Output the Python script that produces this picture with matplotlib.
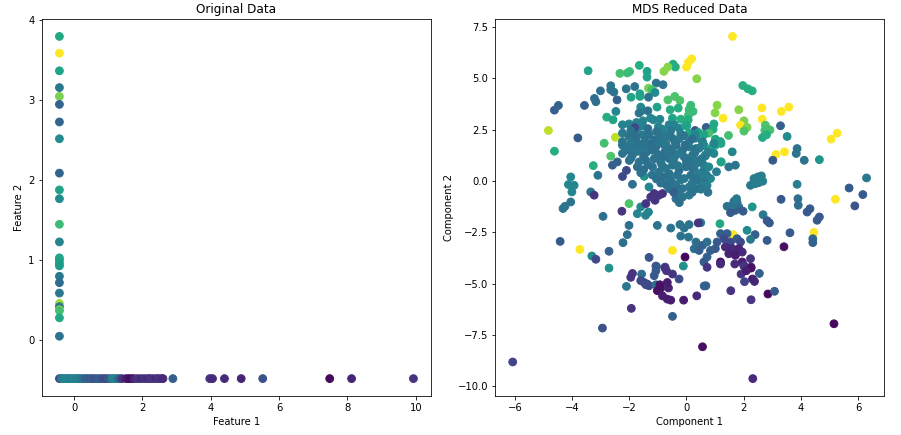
import matplotlib
matplotlib.use("Agg")
import matplotlib.pyplot as plt

# ---- original data (left panel) ----
# points sitting on the vertical line (feature 1 at its minimum)
col_f1 = -0.43
col_f2 = [3.80, 3.59, 3.37, 3.16, 3.05, 2.95, 2.73, 2.52, 2.09, 1.88, 1.77, 1.45, 1.23,
          1.03, 1.00, 0.96, 0.93, 0.80, 0.72, 0.59, 0.46, 0.42, 0.38, 0.37, 0.28, 0.05]
col_c = [0.60, 1.00, 0.58, 0.40, 0.80, 0.32, 0.32, 0.48, 0.32, 0.58, 0.48, 0.68, 0.45,
         0.58, 0.58, 0.55, 0.55, 0.40, 0.35, 0.40, 0.85, 0.40, 0.90, 0.70, 0.60, 0.38]

# points sitting on the horizontal line (feature 2 at its minimum)
row_f2 = -0.48
row_f1 = [-0.43, -0.38, -0.33, -0.28, -0.22, -0.17, -0.12, -0.06, 0.00, 0.05, 0.10, 0.15,
          0.20, 0.27, 0.33, 0.40, 0.47, 0.53, 0.60, 0.68, 0.75, 0.82, 0.90, 0.97, 1.05,
          1.12, 1.18, 1.25, 1.32, 1.40, 1.52, 1.60, 1.68, 1.75, 1.85, 1.95, 2.05, 2.15,
          2.22, 2.30, 2.40, 2.47, 2.55, 2.60, 2.89, 3.97, 4.05, 4.40, 4.89, 5.52, 7.48,
          8.12, 9.93]
row_c = [0.20, 0.40, 0.42, 0.45, 0.45, 0.45, 0.42, 0.45, 0.45, 0.42, 0.45, 0.42,
         0.40, 0.38, 0.30, 0.30, 0.28, 0.30, 0.25, 0.28, 0.30, 0.25, 0.22, 0.25, 0.30,
         0.45, 0.45, 0.42, 0.30, 0.15, 0.08, 0.05, 0.02, 0.10, 0.15, 0.12, 0.15, 0.12,
         0.15, 0.15, 0.12, 0.15, 0.15, 0.12, 0.30, 0.15, 0.12, 0.12, 0.10, 0.25, 0.02,
         0.10, 0.15]

# ---- MDS reduced data (right panel) ----
mds_x = [
    # upper area
    0.18, 0.07, 0.00, 0.36, -0.47, -0.39, -0.65, -0.79, -1.65, -1.38, -1.38, -2.33, -2.07,
    -1.99, -3.44, -1.06, -0.82, -1.33, -1.21, -1.10, -1.33, -1.81, -2.11, -2.65, -2.65,
    -2.54, -3.01, -2.43, -3.22, -3.17, -3.57, -4.48, -4.62, -4.83, -3.80, -2.49, -2.88,
    -1.94, -1.63, -1.63, -1.60, -1.54, -1.66, -1.35, -2.47, -2.79, -2.57, -1.03, -1.26,
    -1.16, -0.93, -0.65, -0.41, -0.23, -0.57, -0.29, 0.15, 0.09, 0.23, 0.07, -0.49, -0.20,
    0.06, 0.01, -2.24, -2.01, -1.75, -1.52, -1.73, -1.54, -1.81, -0.98, -0.84, -0.78,
    -0.61, -0.43, -0.26, 0.30, -0.03, 0.09, 0.42,
    # upper right
    1.61, 1.97, 2.15, 2.30, 1.07, 1.00, 1.28, 1.83, 2.64, 3.32, 3.58, 2.65, 2.01, 1.89,
    2.12, 2.01, 2.76, 2.74, 2.92, 2.66, 2.80, 3.29, 3.52, 5.27, 5.06, 1.47, 0.69, 0.96,
    0.93, 0.78, 0.61, 1.01, 1.19, 0.96,
    # middle left
    -4.62, -2.65, -3.26, -2.59, -2.42, -2.24, -2.10, -3.10, -4.05, -4.13, -3.93, -4.01,
    -4.05, -4.25, -4.32, -3.35, -3.23, -2.92, -2.01, -2.26, -1.89, -1.60, -1.72, -1.43,
    -1.33, -1.48, -1.31, -1.42, -1.25, -1.13, -0.96, -0.84, -1.10, -2.01, -2.07, -2.22,
    -1.02, -4.42, -3.73, -2.71, -3.31, -3.17, -2.71, -1.31, -1.07, -0.75, -0.49, -0.05,
    -0.11, -0.55, -0.23, -0.08, 0.09, -0.20, 0.07, 0.50, 0.41, 0.33, 0.56, 0.27, 0.44,
    # middle right
    3.13, 3.43, 3.02, 3.87, 3.84, 4.12, 4.65, 6.30, 5.69, 6.17, 5.89, 5.21, 3.87, 3.90,
    3.91, 3.31, 4.22, 4.32, 4.57, 4.65, 2.36, 2.50, 2.62, 2.24, 2.41, 2.67, 2.53, 2.30,
    2.68, 2.82, 2.90, 3.62, 2.82, 3.41, 4.46, 4.42, 4.42, 2.40, 2.24, 2.12, 1.42, 1.66,
    1.77, 1.83, 1.71, 1.54, 1.98, 1.63, 1.75, 1.17, 1.63, 1.19, 1.42, 1.31, 1.07, 1.54,
    1.77, 1.89, 1.36, 1.60, 1.83, 1.95, 1.48, 1.71, 1.01, 0.84, 0.72, 2.24, 1.95, 2.01,
    2.26, 1.19, 0.72, 0.61, 1.60, 1.71, 1.48, 1.21, 0.75, 1.01, 1.21, 0.66,
    # lower left
    -2.94, -1.93, -2.10, -1.89, -1.95, -1.57, -1.60, -1.48, -1.37, -1.31, -1.42, -1.13,
    -1.07, -1.05, -1.07, -0.93, -0.90, -1.02, -0.84, -0.63, -0.67, -0.75, -0.70, -0.49,
    -0.26, -0.67, -0.55, -0.10, -0.49, 0.36, 0.62, 0.56,
    # lower right
    0.72, 1.19, 1.69, 2.01, 2.26, 1.91, 2.09, 2.31, 2.38, 2.03, 2.55, 0.68, 1.55, 2.26,
    2.85, 3.08, 5.16, 2.32, -6.08,
    # dense central cluster
    -2.24, -2.01, -1.72, -1.54, -1.31, -1.07, -0.84, -0.61, -0.37, -0.14, 0.09, 0.33,
    0.56, -2.24, -1.89, -1.66, -1.42, -1.13, -0.84, -0.61, -0.37, -0.08, 0.21, 0.44,
    -1.72, -1.19, -0.96, -0.72, -0.49, -0.26, -0.02, 0.27, 0.56, -0.78, -0.55, -0.32,
    -0.08, 0.15, 0.38, 0.56, -0.61, -0.37, -0.14, 0.09, 0.33, -0.37, -0.14, 0.09,
    -2.24, -2.01, -1.77, -1.54, -1.31, -1.13, -0.96, -0.72, -0.49, -0.26, -2.24, -1.95,
    -1.66, -1.31, -1.07, -0.72, -0.37, 0.09, 0.33, 0.56, 0.61, 0.84, 0.96, 0.66, 0.96,
    0.61, 0.78, 0.66, 0.55, 0.72, 0.84, 1.21,
    -1.60, -1.20, -0.90, -0.30, 0.20, 0.70, -2.00, -1.40, -0.50, 0.00, 0.40, -0.90,
    -0.20, 0.30, -1.85, -0.70, -1.50, 0.20, -0.45, 1.05,
    -1.95, -1.35, -1.05, -0.55, -0.10, 0.20, -1.80, -1.45, -0.85, -0.40, -0.05, 0.45,
    -2.10, -1.70, -1.20, -0.75, -0.25, 0.30, 0.75, -1.95, -1.50, -1.00, -0.45, 0.05,
    0.55, -1.35, -0.85, -0.30, 0.15, 0.45, -1.05, -0.60, -0.20, 0.30, -0.45, 0.20,
    0.50, -0.70, 0.75, -0.25,
]
mds_y = [
    5.95, 5.78, 5.55, 4.98, 5.69, 5.55, 5.55, 5.34, 5.63, 5.34, 5.06, 5.24, 5.26,
    5.33, 5.37, 4.77, 4.69, 4.52, 4.44, 4.31, 4.08, 4.60, 4.49, 4.64, 4.44,
    4.33, 4.39, 3.95, 4.02, 3.86, 3.68, 3.68, 3.45, 2.46, 2.10, 2.13, 1.84,
    4.08, 4.25, 4.12, 3.60, 3.44, 3.31, 3.42, 3.39, 3.11, 2.98, 3.60, 3.06,
    2.98, 3.01, 3.95, 4.12, 3.92, 3.47, 3.55, 3.69, 3.47, 3.39, 3.21, 3.06, 3.01,
    2.98, 2.69, 2.74, 2.78, 2.85, 2.93, 2.54, 2.69, 2.60, 2.65, 2.52, 2.25,
    2.74, 2.74, 2.57, 2.46, 2.69, 2.33, 2.36,
    7.04, 4.65, 4.49, 4.39, 3.69, 3.32, 3.06, 3.47, 3.56, 3.39, 3.60, 3.01, 2.93, 2.72,
    2.61, 2.43, 2.72, 2.46, 2.49, 2.12, 2.25, 2.69, 2.17, 2.33, 2.04, 2.22, 2.61, 2.78,
    2.52, 2.33, 2.25, 2.04, 1.92, 1.81,
    1.45, 1.21, 0.75, 0.77, 0.93, 0.22, 0.52, 0.28, 0.20, -0.17, -0.21, -0.53,
    -1.02, -1.23, -1.34, -0.53, -0.69, -1.72, -1.10, -1.47, -0.16, -1.26, -1.59, -1.67,
    -1.51, 0.23, -0.29, -1.10, -0.78, -0.61, -0.69, -0.61, -0.94, -2.16, -2.61, -3.00,
    -2.16, -2.94, -3.33, -3.42, -3.65, -3.81, -4.24, -3.72, -4.14, -4.19, -3.38, -3.70,
    -4.14, -2.29, -2.12, -2.29, -2.12, -2.68, -2.73, -2.03, -2.04, -2.97, -3.13, -3.30, -3.38,
    1.29, 1.42, 1.01, 1.58, 1.34, 1.01, 1.04, 0.15, -0.34, -0.66, -1.21, -0.89, -0.16, -0.86,
    -1.18, -0.89, -1.51, -1.35, -1.91, -1.75, 0.12, 0.20, 0.25, -0.21, -0.13, -0.01, -0.08, -1.26,
    -1.64, -1.93, -2.04, -2.52, -2.89, -3.20, -2.50, -2.81, -3.00, -2.61, -2.84, -2.40, -1.23, -0.99,
    -1.05, -1.26, -1.43, -1.54, -1.47, -1.15, -0.86, -2.08, -2.61, -2.56, -2.56, -2.81, -2.97, -2.97,
    -2.81, -2.97, -3.21, -3.29, -3.29, -3.46, -3.54, -3.62, -3.29, -3.38, -2.97, -3.78, -3.94, -4.14,
    -4.19, -3.94, -3.70, -3.94, 1.42, 0.77, 0.69, 0.93, 0.15, 1.74, 1.83, 1.22,
    -7.16, -6.20, -5.13, -4.50, -4.69, -4.53, -4.85, -4.94, -5.02, -5.10, -5.05, -4.61,
    -4.37, -4.17, -5.05, -5.05, -5.21, -5.34, -5.59, -5.21, -4.94, -4.24, -4.37, -4.53,
    -4.77, -5.75, -5.80, -5.80, -6.59, -5.59, -5.11, -8.07,
    -4.20, -4.04, -4.04, -4.12, -4.24, -4.53, -4.37, -4.77, -4.89, -4.90, -4.50, -5.10, -5.34, -5.78,
    -5.50, -5.37, -6.95, -9.62, -8.81,
    1.74, 1.66, 1.82, 1.58, 1.74, 1.66, 1.82, 1.58, 1.74, 1.50, 1.66, 1.58,
    1.74, 1.34, 1.26, 0.93, 1.01, 1.09, 1.17, 1.09, 1.26, 1.17, 1.26, 1.01,
    0.69, 0.69, 0.44, 0.61, 0.77, 0.52, 0.69, 0.61, 0.44, 0.20, 0.04, 0.28,
    0.12, 0.28, 0.04, -0.04, -0.37, -0.21, -0.37, -0.29, -0.37, -0.86, -0.78, -0.69,
    2.33, 2.17, 2.00, 2.25, 2.25, 2.00, 2.13, 2.17, 2.08, 2.04, 1.92, 1.84,
    1.81, 1.81, 1.76, 1.81, 1.76, 1.92, 2.09, 1.92, 1.74, 1.58, 1.83, 1.26, 1.34,
    0.77, 0.69, 0.28, -0.21, -0.21, 0.12, 0.93,
    0.40, 0.30, -0.10, -0.50, -0.10, 0.30, 1.00, 1.40, 1.40, 0.90, 0.90, 0.90,
    2.30, 2.30, 1.55, 1.35, 0.55, 0.95, -0.15, 0.45,
    2.45, 2.55, 2.40, 2.45, 2.20, 2.05, 2.20, 1.95, 1.95, 1.90, 1.75, 1.60,
    1.50, 1.45, 1.50, 1.45, 1.35, 1.40, 1.40, 1.10, 1.20, 1.30, 1.05, 1.05,
    1.10, 0.80, 0.75, 0.75, 0.70, 0.35, 0.10, 0.35, 0.05, 0.15, -0.55, -0.55,
    -0.40, -0.20, -0.55, -1.05,
]
mds_c = [
    1.00, 1.00, 1.00, 0.82, 0.62, 0.62, 0.82, 0.82, 0.62, 0.58, 0.58, 0.70, 0.68,
    0.68, 0.58, 0.38, 0.38, 0.80, 0.70, 0.48, 0.38, 0.38, 0.38, 0.38, 0.38,
    0.38, 0.36, 0.30, 0.36, 0.36, 0.30, 0.30, 0.30, 0.90, 0.28, 0.90, 0.70,
    0.58, 0.58, 0.58, 0.46, 0.46, 0.38, 0.38, 0.46, 0.62, 0.58, 0.58, 0.46,
    0.46, 0.46, 0.72, 0.72, 0.72, 0.62, 0.62, 0.68, 0.68, 0.68, 0.68, 0.58, 0.62,
    0.62, 0.58, 0.44, 0.44, 0.44, 0.44, 0.44, 0.44, 0.22, 0.44, 0.44, 0.44,
    0.44, 0.44, 0.44, 0.25, 0.58, 0.58, 0.58,
    1.00, 0.62, 0.62, 0.62, 0.82, 0.82, 1.00, 0.82, 1.00, 1.00, 1.00, 1.00, 0.80, 1.00,
    0.80, 0.72, 0.72, 0.70, 0.70, 0.60, 0.62, 0.30, 0.48, 1.00, 1.00, 0.70, 0.30, 0.60,
    0.60, 0.70, 0.58, 0.58, 0.58, 0.58,
    0.62, 0.72, 0.62, 0.30, 0.30, 0.22, 0.22, 0.38, 0.46, 0.46, 0.46, 0.46,
    0.38, 0.38, 0.38, 0.38, 0.15, 0.36, 0.72, 0.15, 0.36, 0.46, 0.46, 0.44,
    0.44, 0.52, 0.46, 0.15, 0.15, 0.15, 0.15, 0.15, 0.15, 0.36, 0.36, 0.36,
    0.38, 0.28, 1.00, 0.30, 0.48, 0.22, 0.50, 0.25, 0.22, 0.22, 1.00, 0.02,
    0.50, 0.38, 0.38, 0.38, 0.38, 0.38, 0.38, 0.38, 0.15, 0.36, 0.30, 0.36, 0.30,
    1.00, 1.00, 0.28, 0.38, 0.38, 0.38, 0.52, 0.40, 0.28, 0.28, 0.25, 1.00, 0.42, 0.36,
    0.36, 0.28, 0.28, 0.28, 0.28, 0.28, 0.42, 0.42, 0.42, 0.40, 0.42, 0.42, 0.42, 0.52,
    0.40, 0.28, 0.28, 0.28, 0.28, 0.04, 1.00, 0.32, 0.32, 0.30, 0.40, 0.48, 0.38, 0.38,
    0.38, 0.36, 0.30, 0.28, 0.28, 0.38, 0.40, 0.60, 1.00, 0.30, 0.30, 0.22, 0.28, 0.22,
    0.28, 0.22, 0.12, 0.12, 0.10, 0.12, 0.10, 0.08, 0.28, 0.30, 0.36, 0.15, 0.08, 0.08,
    0.08, 0.04, 0.30, 0.28, 0.46, 0.38, 0.38, 0.58, 0.15, 0.58, 0.58, 0.46,
    0.25, 0.15, 0.40, 0.15, 0.15, 0.36, 0.22, 0.22, 0.22, 0.22, 0.22, 0.28,
    0.28, 0.28, 0.36, 0.04, 0.04, 0.04, 0.08, 0.10, 0.08, 0.15, 0.15, 0.15,
    0.22, 0.08, 0.08, 0.08, 0.30, 0.12, 0.30, 0.04,
    0.15, 0.12, 0.12, 0.15, 0.04, 0.15, 0.08, 0.08, 0.10, 0.20, 0.30, 0.30, 0.15, 0.15,
    0.02, 0.28, 0.02, 0.12, 0.20,
    0.38, 0.38, 0.40, 0.38, 0.36, 0.38, 0.40, 0.38, 0.36, 0.38, 0.40, 0.38,
    0.42, 0.38, 0.36, 0.38, 0.40, 0.38, 0.36, 0.38, 0.40, 0.38, 0.42, 0.38,
    0.36, 0.38, 0.38, 0.40, 0.38, 0.36, 0.38, 0.40, 0.38, 0.36, 0.38, 0.38,
    0.40, 0.38, 0.36, 0.38, 0.38, 0.36, 0.38, 0.40, 0.38, 0.36, 0.38, 0.40,
    0.40, 0.38, 0.38, 0.40, 0.38, 0.36, 0.38, 0.40, 0.38, 0.42, 0.38, 0.40,
    0.38, 0.36, 0.38, 0.40, 0.38, 0.42, 0.46, 0.42, 0.46, 0.58, 0.46, 0.42, 0.46,
    0.42, 0.46, 0.42, 0.42, 0.42, 0.46, 0.58,
    0.38, 0.38, 0.36, 0.38, 0.40, 0.42, 0.38, 0.40, 0.38, 0.36, 0.40, 0.38,
    0.42, 0.46, 0.38, 0.38, 0.36, 0.40, 0.38, 0.42,
    0.38, 0.36, 0.38, 0.40, 0.38, 0.36, 0.36, 0.38, 0.40, 0.38, 0.36, 0.42,
    0.38, 0.40, 0.36, 0.38, 0.40, 0.38, 0.42, 0.38, 0.36, 0.38, 0.40, 0.38,
    0.40, 0.36, 0.38, 0.40, 0.38, 0.42, 0.36, 0.38, 0.40, 0.38, 0.30, 0.38,
    0.40, 0.36, 0.38, 0.36,
]

feature1 = [col_f1] * len(col_f2) + row_f1
feature2 = col_f2 + [row_f2] * len(row_f1)
orig_c = col_c + row_c

fig = plt.figure(figsize=(901 / 72, 435 / 72), dpi=72)
ax1 = fig.add_axes([0.0463, 0.0903, 0.4322, 0.8653])
ax2 = fig.add_axes([0.5494, 0.0903, 0.4320, 0.8653])

ax1.scatter(feature1, feature2, c=orig_c, cmap="viridis", vmin=0, vmax=1, s=60)
ax1.set_title("Original Data")
ax1.set_xlabel("Feature 1")
ax1.set_ylabel("Feature 2")
ax1.set_yticks([0, 1, 2, 3, 4])

ax2.scatter(mds_x, mds_y, c=mds_c, cmap="viridis", vmin=0, vmax=1, s=60)
ax2.set_title("MDS Reduced Data")
ax2.set_xlabel("Component 1")
ax2.set_ylabel("Component 2")

fig.savefig("out.png", dpi=72)
